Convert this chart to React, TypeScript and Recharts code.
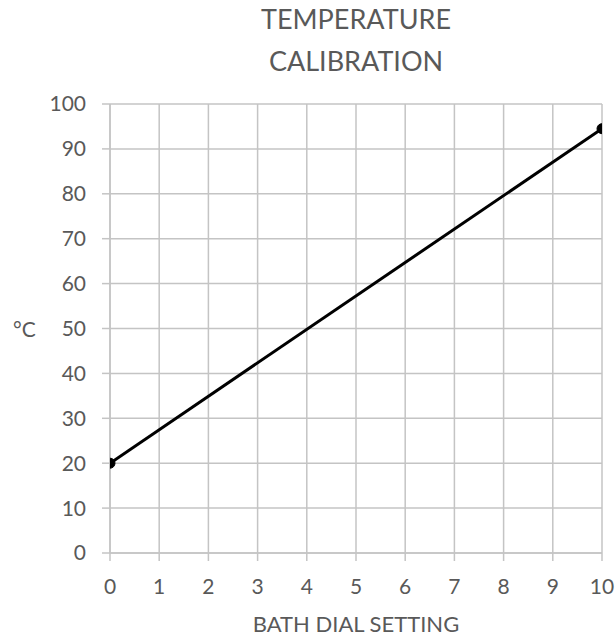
import React from "react";
import { LineChart, Line, XAxis, YAxis, CartesianGrid } from "recharts";

const dialSettings = [0, 10];
const temperatures = [20, 94.5];
const xTicks = [0, 1, 2, 3, 4, 5, 6, 7, 8, 9, 10];
const yTicks = [0, 10, 20, 30, 40, 50, 60, 70, 80, 90, 100];

const data = dialSettings.map((d, i) => ({ dial: d, temp: temperatures[i] }));

const FONT = "Lato, 'Open Sans', sans-serif";
const GRID = "#c4c4c4";
const TEXT = "#595959";

export default function App() {
  return (
    <div style={{ position: "absolute", left: 0, top: 0, width: 616, height: 642, background: "#fff", fontFamily: FONT }}>
      <div style={{ position: "absolute", left: 156, width: 400, top: -2, textAlign: "center", fontSize: 27, lineHeight: "42px", color: TEXT }}>
        TEMPERATURE
        <br />
        CALIBRATION
      </div>
      <div style={{ position: "absolute", left: 13, top: 316, fontSize: 21, color: TEXT }}>°C</div>
      <div style={{ position: "absolute", left: 156, width: 400, top: 610, textAlign: "center", fontSize: 22, color: TEXT }}>
        BATH DIAL SETTING
      </div>
      <LineChart
        width={616}
        height={642}
        data={data}
        margin={{ top: 104, right: 14, bottom: 59, left: 40 }}
      >
        <CartesianGrid stroke={GRID} strokeWidth={1.5} />
        <XAxis
          dataKey="dial"
          type="number"
          domain={[0, 10]}
          ticks={xTicks}
          allowDataOverflow
          interval={0}
          height={30}
          tickSize={8}
          tickMargin={18}
          axisLine={{ stroke: GRID, strokeWidth: 1.5 }}
          tickLine={{ stroke: GRID, strokeWidth: 1.5 }}
          tick={{ fill: TEXT, fontSize: 21, fontFamily: FONT }}
        />
        <YAxis
          type="number"
          domain={[0, 100]}
          ticks={yTicks}
          allowDataOverflow
          interval={0}
          width={70}
          tickSize={8}
          tickMargin={16}
          axisLine={{ stroke: GRID, strokeWidth: 1.5 }}
          tickLine={{ stroke: GRID, strokeWidth: 1.5 }}
          tick={{ fill: TEXT, fontSize: 21, fontFamily: FONT }}
        />
        <Line
          dataKey="temp"
          stroke="#000"
          strokeWidth={3}
          dot={{ r: 5, fill: "#000", stroke: "#000", strokeWidth: 1, clipDot: true }}
          isAnimationActive={false}
        />
      </LineChart>
    </div>
  );
}
